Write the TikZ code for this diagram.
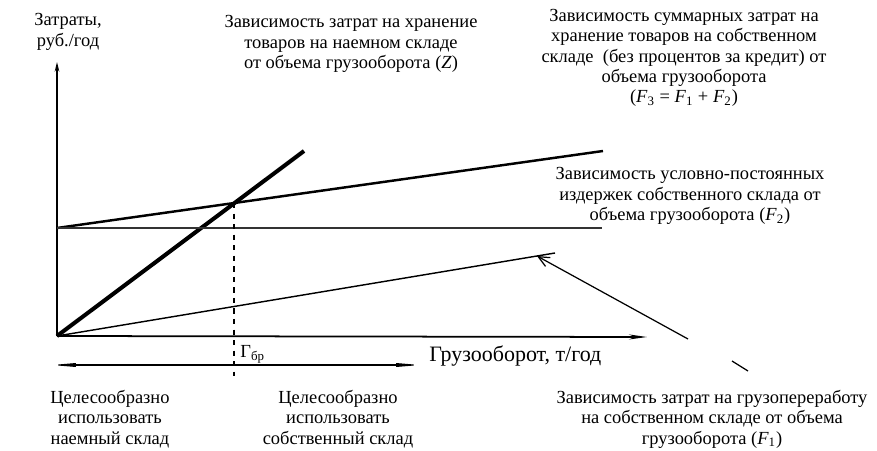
\documentclass[tikz,border=0pt]{standalone}
\usepackage{fontspec}
\setmainfont{Liberation Serif}
\usetikzlibrary{positioning, arrows.meta}

\begin{document}
\begin{tikzpicture}[x=0.2mm, y=-0.2mm, every text node part/.style={align=center},
    lbl/.style={font=\fontsize{10.5}{11.6}\selectfont, inner sep=0pt},
    ax/.style={line width=1pt}]
            \useasboundingbox (0, 0) rectangle (877, 451);

            % axes
            \coordinate (O) at (57, 336);
            \draw[ax, -{Stealth[length=1.9mm, width=0.9mm]}] (O) -- (57, 62) coordinate (ytop);
            \draw[ax, -{Stealth[length=3.6mm, width=1mm]}] (O) -- (647, 337) coordinate (xend);
            \node[lbl] (yl) at (68, 32) {Затраты,\\руб./год};
            \node[lbl, font=\fontsize{12.5}{14}\selectfont, anchor=west] (xl) at (429, 356) {Грузооборот, т/год};

            % lines
            \draw[line width=2.3pt] (O) -- (304, 151) coordinate (zend);
            \draw[line width=1.4pt] (57, 228) coordinate (f3s) -- (603, 151) coordinate (f3end);
            \draw[line width=0.8pt, color=black!80] (f3s) -- (602, 228) coordinate (f2end);
            \draw[line width=0.8pt] (O) -- (555, 253) coordinate (f1end);
            \coordinate (f1tip) at (537, 256);

            % break-even point
            \coordinate (br) at (234, 203);
            \draw[thick, dashed] (br) -- (234, 376) coordinate (brlow);
            \node[lbl, anchor=west] (gbr) at (240, 354) {Г\textsubscript{бр}};
            \draw[line width=0.6pt, {Stealth[length=6mm, width=1mm]}-{Stealth[length=6mm, width=1mm]}] (52, 365) coordinate (dl) -- (420, 365) coordinate (dr);

            \node[lbl] (zl) at (351, 44) {Зависимость затрат на хранение\\товаров на наемном складе\\от объема грузооборота (\textit{Z})};
            \node[lbl] (f3l) at (684, 58) {Зависимость суммарных затрат на\\хранение товаров на собственном\\складе~ (без процентов за кредит) от\\объема грузооборота\\(\textit{F}\textsubscript{3} = \textit{F}\textsubscript{1} + \textit{F}\textsubscript{2})};
            \node[lbl] (f2l) at (690, 196) {Зависимость условно-постоянных\\издержек собственного склада от\\объема грузооборота (\textit{F}\textsubscript{2})};
            \node[lbl] (f1l) at (712, 419) {Зависимость затрат на грузопереработу\\на собственном складе от объема\\грузооборота (\textit{F}\textsubscript{1})};

            \node[lbl] (hire) at (110, 419) {Целесообразно\\использовать\\наемный склад};
            \node[lbl] (own) at (338, 419) {Целесообразно\\использовать\\собственный склад};

            % pointer to F1
            \draw[line width=0.7pt, -{Straight Barb[length=2.2mm, width=2mm]}] (688, 339) coordinate (pa) -- (f1tip);
            \draw[line width=0.7pt] (732, 361) coordinate (pb) -- (748, 371) coordinate (pc);
        \end{tikzpicture}
\end{document}
